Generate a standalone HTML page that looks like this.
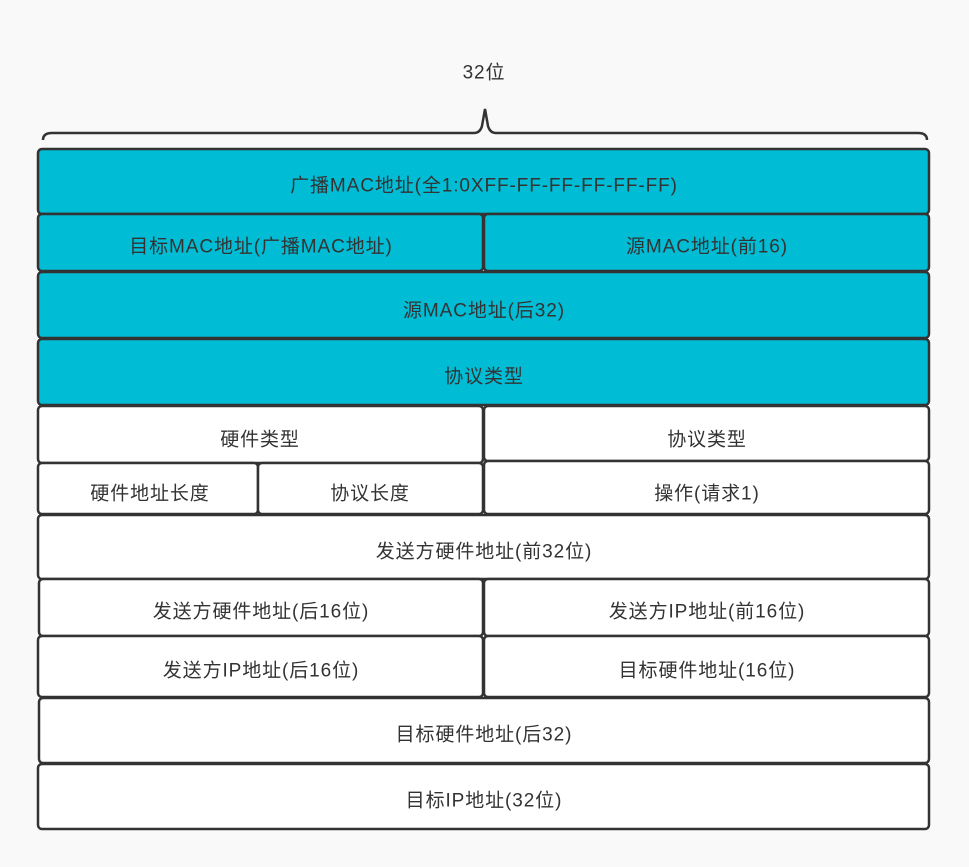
<!DOCTYPE html>
<html><head><meta charset="utf-8"><style>
html,body{margin:0;padding:0;background:#f9f9f9;}
svg{display:block}
text{font-family:"Liberation Sans","Noto Sans CJK SC",sans-serif;font-size:19px;letter-spacing:0.9px;fill:#333;text-anchor:middle;dominant-baseline:central}
rect{stroke:#333;stroke-width:2.5}
.c{fill:#00bcd4}.w{fill:#fff}
</style></head><body>
<svg width="969" height="867" viewBox="0 0 969 867">
<rect x="0" y="0" width="969" height="867" fill="#f9f9f9" style="stroke:none"/>
<g transform="translate(0,2)">
<text x="484" y="71">32位</text>
</g>
<path d="M43 140 Q43 133 52 133 L474 133 Q480 133 482 126 L485 109 L488 126 Q490 133 496 133 L918 133 Q927 133 927 140" fill="none" stroke="#333" stroke-width="2.5"/>
<rect class="c" x="38" y="149" width="891" height="65" rx="4"/>
<rect class="c" x="38" y="214" width="445" height="57" rx="4"/>
<rect class="c" x="484" y="214" width="445" height="57" rx="4"/>
<rect class="c" x="38" y="272" width="891" height="66" rx="4"/>
<rect class="c" x="38" y="339" width="891" height="66" rx="4"/>
<rect class="w" x="38" y="406" width="445" height="57" rx="4"/>
<rect class="w" x="484" y="406" width="445" height="55" rx="4"/>
<rect class="w" x="38" y="463" width="220" height="51" rx="4"/>
<rect class="w" x="258" y="463" width="225" height="51" rx="4"/>
<rect class="w" x="484" y="461" width="445" height="53" rx="4"/>
<rect class="w" x="38" y="515" width="891" height="64" rx="4"/>
<rect class="w" x="39" y="579" width="444" height="57" rx="4"/>
<rect class="w" x="484" y="579" width="445" height="57" rx="4"/>
<rect class="w" x="38" y="636" width="445" height="61" rx="4"/>
<rect class="w" x="484" y="636" width="445" height="61" rx="4"/>
<rect class="w" x="39" y="698" width="890" height="65" rx="4"/>
<rect class="w" x="38" y="764" width="891" height="65" rx="4"/>
<g transform="translate(0,2)">
<text x="484" y="184">广播MAC地址(全1:0XFF-FF-FF-FF-FF-FF)</text>
<text x="261" y="245">目标MAC地址(广播MAC地址)</text>
<text x="707" y="245">源MAC地址(前16)</text>
<text x="484" y="309">源MAC地址(后32)</text>
<text x="484" y="375">协议类型</text>
<text x="260" y="438">硬件类型</text>
<text x="707" y="438">协议类型</text>
<text x="150" y="492">硬件地址长度</text>
<text x="370" y="492">协议长度</text>
<text x="707" y="492">操作(请求1)</text>
<text x="484" y="550">发送方硬件地址(前32位)</text>
<text x="261" y="610">发送方硬件地址(后16位)</text>
<text x="707" y="610">发送方IP地址(前16位)</text>
<text x="261" y="669">发送方IP地址(后16位)</text>
<text x="707" y="669">目标硬件地址(16位)</text>
<text x="484" y="733">目标硬件地址(后32)</text>
<text x="484" y="799">目标IP地址(32位)</text>
</g>
</svg>
</body></html>
